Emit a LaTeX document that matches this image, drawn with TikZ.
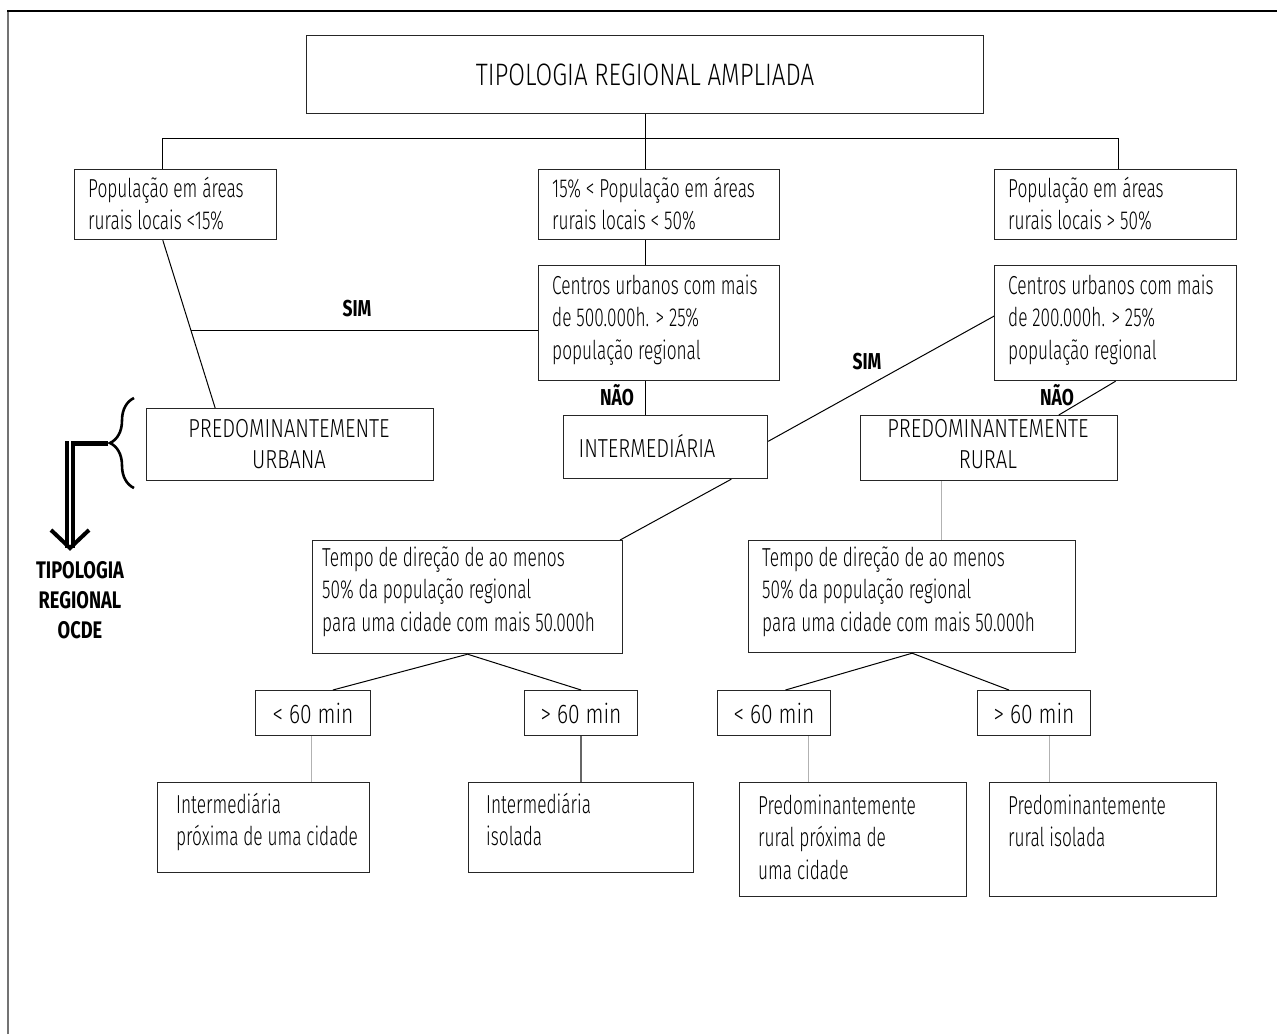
\documentclass[tikz,border=0pt]{standalone}
\usepackage{fontspec}
\setmainfont{Fira Sans Light}[FakeStretch=0.665]
\newfontfamily\capsfont{Fira Sans Light}[FakeStretch=0.78]
\newfontfamily\labelfont{Fira Sans}[FakeStretch=0.76]
\usetikzlibrary{calc,decorations.pathreplacing}
\newcommand\fl{\rule{0pt}{22pt}}
\begin{document}
\begin{tikzpicture}[x=1pt,y=-1pt,
  box/.style={draw=black!85, line width=1.2pt, inner sep=0pt, anchor=north west},
  txt/.style={anchor=north west, inner sep=0pt, align=left, font=\fontsize{26}{32.5}\selectfont},
  ctxt/.style={anchor=north, inner sep=0pt, align=center, font=\capsfont\fontsize{26}{31}\selectfont},
  mins/.style={font=\capsfont\fontsize{27}{30}\selectfont},
  tag/.style={inner sep=0pt, font=\labelfont\bfseries\fontsize{23}{30}\selectfont},
  link/.style={draw=black, line width=1pt},
  faint/.style={draw=black!30, line width=1pt},
  dark/.style={draw=black!60, line width=2pt},
]
\useasboundingbox (0,0) rectangle (1277,1034);
% outer frame (only top and left edges fall inside the page)
\draw[black!55, line width=1.5pt] (8,1034) -- (8,11);
\draw[black, line width=1.5pt] (7,11) -- (1277,11);

% ---------- boxes ----------
\node[box, minimum width=677pt, minimum height=78pt, font=\capsfont\fontsize{31}{36}\selectfont] (top) at (306,35) {TIPOLOGIA REGIONAL AMPLIADA};
\node[box, minimum width=202pt, minimum height=70pt] (l1) at (74,169) {};
\node[box, minimum width=241pt, minimum height=70pt] (m1) at (538,169) {};
\node[box, minimum width=242pt, minimum height=70pt] (r1) at (994,169) {};
\node[box, minimum width=241pt, minimum height=115pt] (m2) at (538,265) {};
\node[box, minimum width=242pt, minimum height=115pt] (r2) at (994,265) {};
\node[box, minimum width=287pt, minimum height=72pt] (urb) at (146,408) {};
\node[box, minimum width=204pt, minimum height=63pt] (int) at (563,415) {};
\node[box, minimum width=257pt, minimum height=65pt] (rur) at (860,415) {};
\node[box, minimum width=310pt, minimum height=113pt] (tl) at (312,540) {};
\node[box, minimum width=327pt, minimum height=112pt] (tr) at (748,540) {};
\node[box, minimum width=115pt, minimum height=45pt, mins] (a1) at (255,690) {< 60 min};
\node[box, minimum width=113pt, minimum height=45pt, mins] (b1) at (524,690) {> 60 min};
\node[box, minimum width=113pt, minimum height=45pt, mins] (a2) at (717,690) {< 60 min};
\node[box, minimum width=113pt, minimum height=45pt, mins] (b2) at (977,690) {> 60 min};
\node[box, minimum width=212pt, minimum height=90pt] (c1) at (157,782) {};
\node[box, minimum width=225pt, minimum height=90pt] (c2) at (468,782) {};
\node[box, minimum width=227pt, minimum height=114pt] (c3) at (739,782) {};
\node[box, minimum width=227pt, minimum height=114pt] (c4) at (989,782) {};

% ---------- box texts ----------
\node[txt] (l1t) at (88,175) {\fl População em áreas\\rurais locais <15\%};
\node[txt] (m1t) at (552,175) {\fl 15\% < População em áreas\\rurais locais < 50\%};
\node[txt] (r1t) at (1008,175) {\fl População em áreas\\rurais locais > 50\%};
\node[txt] (m2t) at (552,272) {\fl Centros urbanos com mais\\de 500.000h. > 25\%\\população regional};
\node[txt] (r2t) at (1008,272) {\fl Centros urbanos com mais\\de 200.000h. > 25\%\\população regional};
\node[ctxt] (urbt) at (289,415) {\fl PREDOMINANTEMENTE\\URBANA};
\node[font=\capsfont\fontsize{26}{30}\selectfont, inner sep=0pt] (intt) at (647,446) {INTERMEDIÁRIA};
\node[ctxt] (rurt) at (988,415) {\fl PREDOMINANTEMENTE\\RURAL};
\node[txt] (tlt) at (322,544) {\fl Tempo de direção de ao menos\\50\% da população regional\\para uma cidade com mais 50.000h};
\node[txt] (trt) at (762,544) {\fl Tempo de direção de ao menos\\50\% da população regional\\para uma cidade com mais 50.000h};
\node[txt] (c1t) at (176,791) {\fl Intermediária\\próxima de uma cidade};
\node[txt] (c2t) at (486,791) {\fl Intermediária\\isolada};
\node[txt] (c3t) at (758,792) {\fl Predominantemente\\rural próxima de\\uma cidade};
\node[txt] (c4t) at (1008,792) {\fl Predominantemente\\rural isolada};

% ---------- decision labels ----------
\node[tag] (sim1) at (357,309) {SIM};
\node[tag] (nao1) at (617,395) {NÃO};
\node[tag] (sim2) at (867,362) {SIM};
\node[tag] (nao2) at (1057,395) {NÃO};
\node[tag, align=center, font=\labelfont\bfseries\fontsize{24}{30}\selectfont] (ocde) at (80,600) {TIPOLOGIA\\REGIONAL\\OCDE};

% ---------- connectors ----------
\coordinate (busL) at (162,138);
\coordinate (busR) at (1118,138);
\draw[link] (top.south) -- (top.south |- busL);
\draw[link] (l1.north -| busL) -- (busL) -- (busR) -- (r1.north -| busR);
\draw[link] (top.south |- busL) -- (top.south |- m1.north);
\draw[link] (top.south |- m1.south) -- (top.south |- m2.north);
\draw[link] (top.south |- m2.south) -- (top.south |- int.north);

\coordinate (ua) at ($(l1.south west)!.437!(l1.south east)$);
\coordinate (ub) at ($(urb.north west)!.24!(urb.north east)$);
\draw[link] (ua) -- (ub);
\coordinate (sj) at ($(ua)!.538!(ub)$);
\draw[link] (sj) -- (sj -| m2.west);

\draw[link] ($(int.north east)!.41!(int.south east)$) -- ($(r2.north west)!.44!(r2.south west)$);
\draw[link] ($(r2.south west)!.5!(r2.south east)$) -- ($(rur.north west)!.77!(rur.north east)$);
\draw[link] ($(int.south west)!.82!(int.south east)$) -- ($(tl.north west)!.99!(tl.north east)$);
\coordinate (rr) at ($(rur.south west)!.317!(rur.south east)$);
\draw[faint] (rr) -- (rr |- tr.north);

\draw[link] (tl.south) -- ($(a1.north west)!.67!(a1.north east)$);
\draw[link] (tl.south) -- (b1.north);
\draw[link] (tr.south) -- ($(a2.north west)!.6!(a2.north east)$);
\draw[link] (tr.south) -- ($(b2.north west)!.28!(b2.north east)$);

\coordinate (va1) at ($(a1.south west)!.49!(a1.south east)$);
\draw[faint] (va1) -- (va1 |- c1.north);
\draw[dark] (b1.south) -- (b1.south |- c2.north);
\coordinate (va2) at ($(a2.south west)!.8!(a2.south east)$);
\draw[faint] (va2) -- (va2 |- c3.north);
\coordinate (vb2) at ($(b2.south west)!.637!(b2.south east)$);
\draw[faint] (vb2) -- (vb2 |- c4.north);

% ---------- brace and the thick arrow to the OECD label ----------
\draw[decorate, decoration={brace, amplitude=24pt, aspect=0.5}, line width=2.6pt] (134,488) -- (134,398);
\coordinate (tip) at (108,443);
\coordinate (bend) at (70,443);
\coordinate (foot) at (70,548);
\draw[line width=5pt] (tip) -- ($(bend)+(-5,0)$);
\draw[line width=4.2pt, double=white, double distance=1.2pt, line cap=butt] ($(bend)+(0,-2)$) -- (foot);
\draw[line width=4pt, line join=miter] (51,530) -- (foot) -- (89,530);
\end{tikzpicture}
\end{document}
